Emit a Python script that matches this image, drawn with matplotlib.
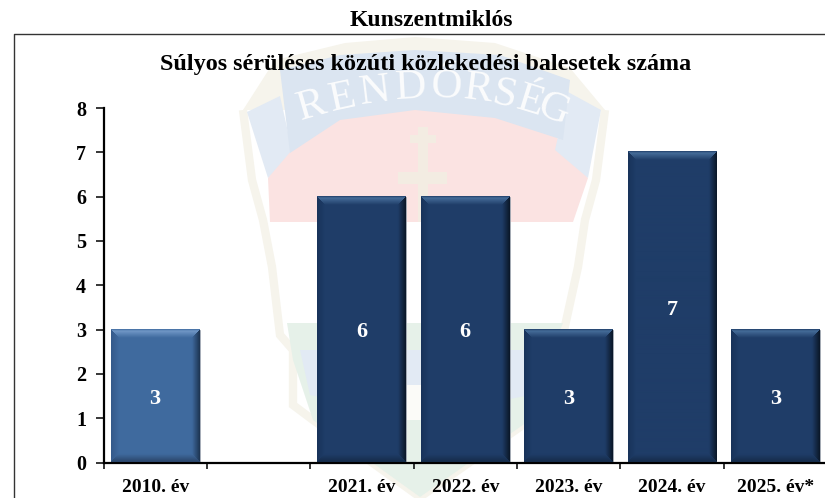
import numpy as np
import matplotlib
matplotlib.use('Agg')
import matplotlib.pyplot as plt
from matplotlib.lines import Line2D
from matplotlib.patches import Polygon

plt.rcParams['font.family'] = ['Liberation Serif', 'DejaVu Serif']
plt.rcParams['font.weight'] = 'bold'

categories = ['2010. év', '', '2021. év', '2022. év', '2023. év', '2024. év', '2025. év*']
values = [3, None, 6, 6, 3, 7, 3]
y_ticks = [0, 1, 2, 3, 4, 5, 6, 7, 8]

W = 825
H = 498
fig = plt.figure(figsize=(W / 100, H / 100), dpi=100, facecolor='white')

# faint police badge behind the chart, drawn in pixel coordinates
bg = fig.add_axes([0, 0, 1, 1], zorder=0)
bg.set_xlim(0, W)
bg.set_ylim(H, 0)
bg.axis('off')

cream = '#f6f4ec'
bg.add_patch(Polygon([(243, 110), (275, 60), (345, 43), (415, 37), (495, 43), (570, 68), (605, 110)],
                     fc=cream, ec='none'))
outline = [(243, 110), (252, 180), (263, 220), (272, 267), (280, 335), (293, 350), (293, 405), (313, 420),
           (420, 497), (530, 420), (548, 405), (548, 350), (563, 335), (578, 267), (585, 220), (596, 180), (605, 110)]
bg.add_patch(Polygon(outline, closed=False, fill=False, ec=cream, lw=6))
bg.add_patch(Polygon([(268, 178), (292, 135), (340, 105), (415, 95), (495, 105), (555, 135), (588, 178),
                      (573, 222), (270, 222)], fc='#fbe3e2', ec='none'))
# wings and ribbon
bg.add_patch(Polygon([(247, 112), (280, 96), (292, 150), (268, 178)], fc='#e2eaf4', ec='none'))
bg.add_patch(Polygon([(601, 110), (568, 92), (555, 150), (588, 178)], fc='#e2eaf4', ec='none'))
bg.add_patch(Polygon([(280, 70), (340, 55), (415, 50), (500, 55), (570, 80), (563, 140), (495, 118), (415, 110),
                      (340, 120), (290, 153)], fc='#dbe5f1', ec='none'))
# cross
bg.add_patch(Polygon([(418, 127), (428, 127), (428, 172), (447, 172), (447, 184), (428, 184), (428, 222),
                      (418, 222), (418, 184), (398, 184), (398, 172), (418, 172)], fc='#f3ece2', ec='none'))
bg.add_patch(Polygon([(410, 135), (436, 135), (436, 143), (410, 143)], fc='#f3ece2', ec='none'))
# lower part
bg.add_patch(Polygon([(287, 323), (563, 323), (548, 360), (530, 420), (420, 497), (313, 420), (293, 360)],
                     fc='#e6f1e9', ec='none'))
bg.add_patch(Polygon([(300, 350), (540, 350), (530, 395), (480, 405), (360, 405), (310, 395)],
                     fc='#e2eaf4', ec='none'))
bg.add_patch(Polygon([(395, 385), (440, 385), (440, 420), (395, 420)], fc='#fbfbf8', ec='none'))

letters = 'RENDŐRSÉG'
letter_x = [312, 342, 375, 411, 446, 478, 504, 530, 553]
letter_y = [106, 98, 92, 88, 87, 90, 95, 102, 110]
letter_rot = [16, 12, 7, 3, -2, -7, -12, -17, -21]
for ch, lx, ly, rot in zip(letters, letter_x, letter_y, letter_rot):
    bg.text(lx, ly, ch, color='#fbfcfd', fontsize=31, fontweight='normal', rotation=rot,
            ha='center', va='center', rotation_mode='anchor')

# chart axes, last category runs slightly off the picture like the original
ax = fig.add_axes([103.5 / W, (H - 462.5) / H, 723.5 / W, 354.5 / H], zorder=1)
ax.patch.set_alpha(0)
x = np.arange(len(categories))
px_x = 723.5 / 7
px_y = 354.5 / 8
bar_w = 0.86


def lerp(a, b, t):
    a = np.array(matplotlib.colors.to_rgb(a))
    b = np.array(matplotlib.colors.to_rgb(b))
    return a + (b - a) * np.clip(t, 0, 1)[..., None]


def bevel_image(v, main, top_b, right, left, bottom):
    # bevelled rectangle: every pixel takes the shade of its nearest edge
    w = int(round(bar_w * px_x))
    h = int(round(v * px_y))
    yy, xx = np.mgrid[0:h, 0:w]
    dl = xx + 0.5
    dr = w - xx - 0.5
    dt = (yy + 0.5) * 0.9
    db = h - yy - 0.5
    size = 8.0
    img = np.ones((h, w, 3)) * np.array(matplotlib.colors.to_rgb(main))
    near = np.minimum(np.minimum(dl, dr), np.minimum(dt, db))
    t = near / size
    top_shade = np.where((t < 0.22)[..., None], lerp(main, top_b, t / 0.22), lerp(top_b, main, (t - 0.22) / 0.78))
    shades = [(dl, lerp(left, main, t)), (dr, lerp(right, main, t)),
              (db, lerp(bottom, main, t)), (dt, top_shade)]
    for d, col in shades:
        m = (d == near) & (near < size)
        img[m] = col[m]
    return img


for xi, v in zip(x, values):
    if v is None:
        continue
    if xi == 0:
        style = ('#3f6a9e', '#7097c6', '#1c3350', '#35598a', '#2a4468')
    else:
        style = ('#1f3d68', '#456c98', '#0a1626', '#18335a', '#152b49')
    ax.bar(xi, v, width=bar_w, color=style[0], edgecolor='#a9aeb5', linewidth=0.6, zorder=2)
    ax.imshow(bevel_image(v, *style), extent=(xi - bar_w / 2, xi + bar_w / 2, 0, v), aspect='auto',
              zorder=3, interpolation='bilinear')
    ax.text(xi, v / 2, str(v), color='white', fontsize=16, ha='center', va='center_baseline', zorder=4)

ax.set_xlim(-0.5, len(categories) - 0.5)
ax.set_ylim(0, 8)
ax.set_yticks(y_ticks)
ax.set_xticks(x)
ax.set_xticklabels(categories, fontsize=14)
ax.set_xticks(np.arange(-0.5, len(categories)), minor=True)
ax.tick_params(axis='x', which='major', length=0, pad=12)
ax.tick_params(axis='x', which='minor', length=4.5, width=1.1, direction='out')
ax.tick_params(axis='y', length=5.5, width=1.1, direction='out', labelsize=14.5, pad=7)
for s in ['top', 'right']:
    ax.spines[s].set_visible(False)
for s in ['left', 'bottom']:
    ax.spines[s].set_linewidth(1.6)

fig.add_artist(Line2D([14.5 / W, 14.5 / W, 1], [0, 1 - 34.5 / H, 1 - 34.5 / H], color='#333333', lw=1.0))
fig.text(431 / W, 1 - 21 / H, 'Kunszentmiklós', fontsize=17, ha='center', va='center', color='black')
fig.text(426 / W, 1 - 64 / H, 'Súlyos sérüléses közúti közlekedési balesetek száma', fontsize=17.4,
         ha='center', va='center', color='black', zorder=5)

fig.savefig('out.png', dpi=100)
